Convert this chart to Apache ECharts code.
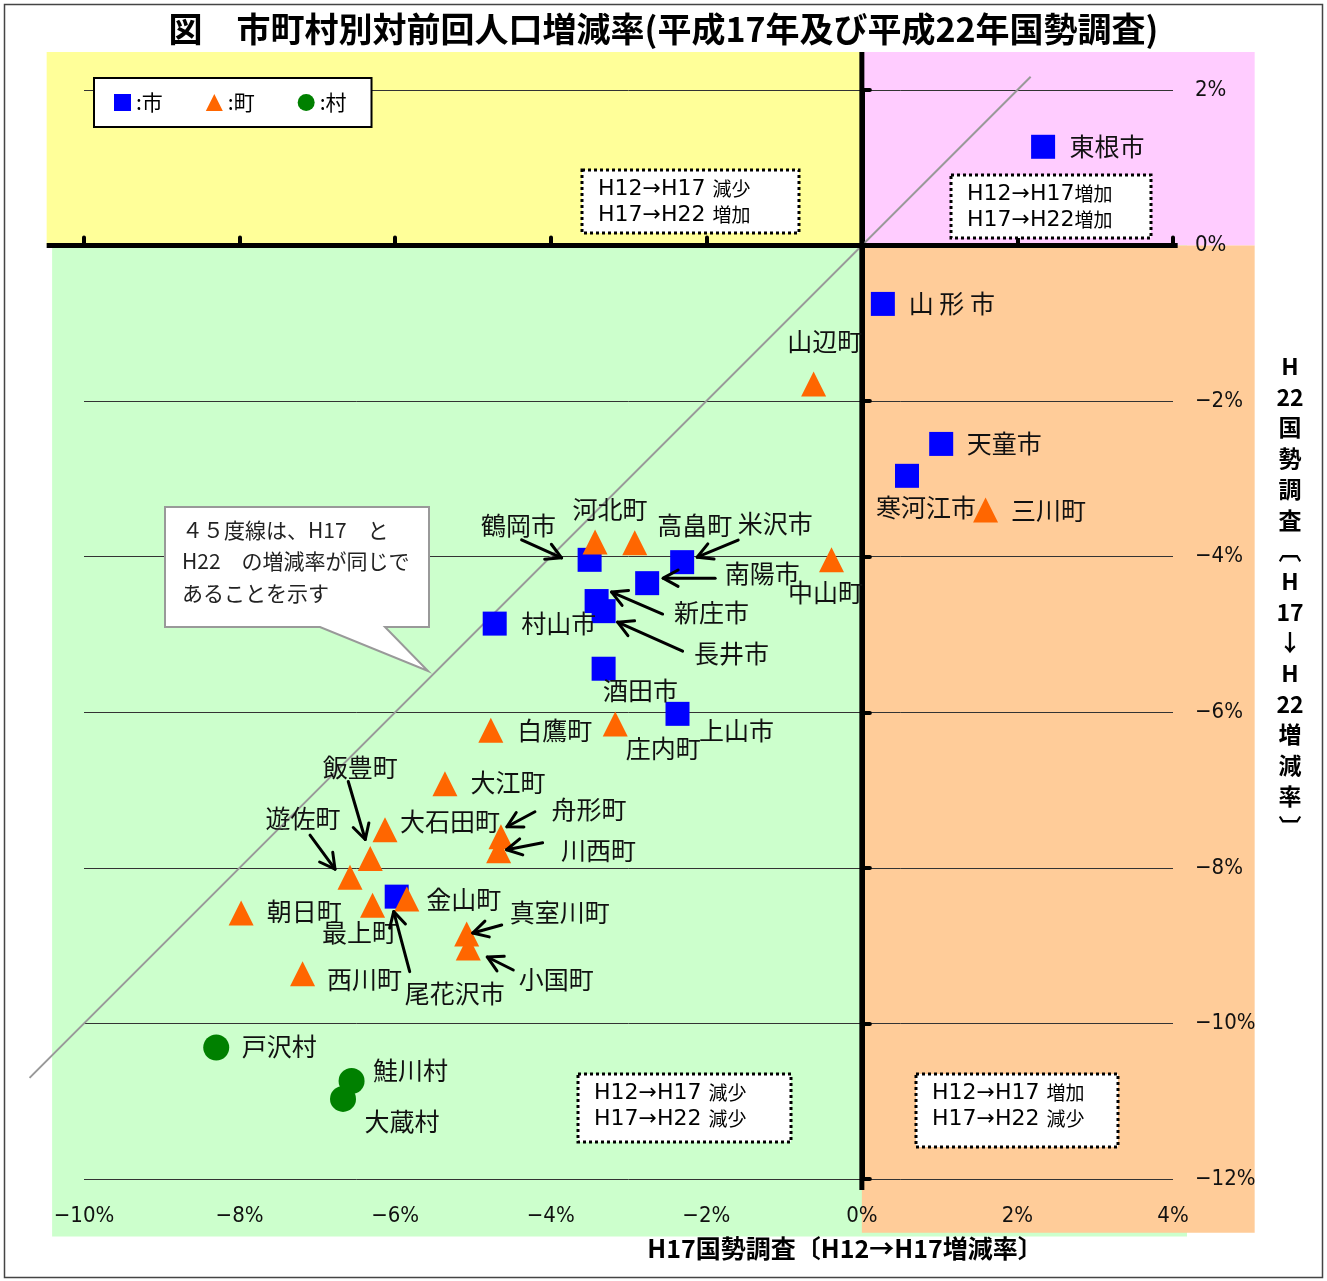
<!DOCTYPE html>
<html><head><meta charset="utf-8">
<script src="https://cdn.jsdelivr.net/npm/echarts@6/dist/echarts.min.js"></script>
<style>html,body{margin:0;padding:0;background:#fff}#c{width:1327px;height:1281px}</style>
</head><body><div id="c"></div>
<script>
// ---- data ----
const xTicks = { min: -10, max: 4, interval: 2 };
const yTicks = { min: -12, max: 2, interval: 2 };
const cityNames = ['東根市','山形市','天童市','寒河江市','米沢市','鶴岡市','南陽市','新庄市','長井市','村山市','酒田市','上山市','尾花沢市'];
const cityX = [2.33,0.27,1.02,0.58,-2.31,-3.50,-2.76,-3.41,-3.32,-4.72,-3.32,-2.37,-5.98];
const cityY = [1.27,-0.75,-2.55,-2.96,-4.07,-4.04,-4.34,-4.57,-4.70,-4.86,-5.44,-6.02,-8.37];
const townNames = ['山辺町','三川町','中山町','河北町','高畠町','白鷹町','庄内町','大江町','大石田町','飯豊町','遊佐町','舟形町','川西町','朝日町','最上町','金山町','真室川町','小国町','西川町'];
const townX = [-0.62,1.59,-0.39,-3.43,-2.92,-4.77,-3.17,-5.36,-6.13,-6.32,-6.58,-4.64,-4.67,-7.98,-6.29,-5.85,-5.08,-5.06,-7.19];
const townY = [-1.78,-3.40,-4.04,-3.81,-3.82,-6.23,-6.15,-6.92,-7.51,-7.88,-8.12,-7.60,-7.78,-8.58,-8.48,-8.40,-8.85,-9.03,-9.36];
const villageNames = ['戸沢村','鮭川村','大蔵村'];
const villageX = [-8.30,-6.56,-6.67];
const villageY = [-10.31,-10.74,-10.97];

// ---- label placement (pixel offsets from the mark) ----
const cityLabelOffset = [[64,0],[69,0],[63,0],[19,32],[93,-39],[-71,-34],[115,-10],[115,11],[128,42],[64,0],[37,22],[59,17],[58,97]];
const townLabelOffset = [[11,-43],[63,0],[-6,33],[15,-32],[60,-17],[64,0],[48,25],[63,-1],[65,-8],[-10,-91],[-47,-59],[88,-27],[100,0],[63,-1],[-13,27],[57,1],[93,-21],[88,32],[62,6]];
const villageLabelOffset = [[63,-1],[59,-10],[59,23]];
// leader arrows: [name, tailDx, tailDy, tipDx, tipDy] in px relative to the mark
const arrows = [
  ['鶴岡市',-68,-20,-28,-2], ['米沢市',56,-22,15,-5], ['南陽市',68,-5,16,-5],
  ['新庄市',66,13,15,-9], ['長井市',79,40,14,11], ['舟形町',34,-25,6,-10],
  ['川西町',44,-8,8,-1], ['飯豊町',-22,-77,-5,-19], ['遊佐町',-40,-42,-15,-8],
  ['尾花沢市',13,75,-3,15], ['真室川町',35,-9,6,-1], ['小国町',45,22,19,9]
];

const CJK = "'Noto Sans CJK JP','Noto Sans CJK SC',sans-serif";
const NARROW = "'Liberation Sans Narrow','DejaVu Sans Condensed','Noto Sans',sans-serif";

function items(names, xs, ys, offs) {
  return names.map((n, i) => ({ name: n, value: [xs[i], ys[i]], label: { offset: offs[i] } }));
}
const pctFmt = v => v === 0 ? '0%' : (v < 0 ? '−' + Math.abs(v) + '%' : v + '%');
const labelBase = {
  show: true, position: 'inside', color: '#111', fontSize: 25, fontFamily: CJK,
  formatter: p => p.name === '山形市' ? '山 形 市' : p.name
};

const chart = echarts.init(document.getElementById('c'), null, { renderer: 'canvas' });
chart.setOption({
  animation: false,
  backgroundColor: '#fff',
  title: {
    text: '図　市町村別対前回人口増減率(平成17年及び平成22年国勢調査)',
    left: 'center', top: 7,
    textStyle: { fontSize: 34, fontWeight: 'bold', color: '#000', fontFamily: CJK }
  },
  legend: {
    left: 94, top: 78, orient: 'horizontal',
    backgroundColor: '#fff', borderColor: '#000', borderWidth: 2,
    padding: [14, 25, 14, 20], itemGap: 43, itemWidth: 17, itemHeight: 17,
    formatter: ':{name}',
    textStyle: { fontSize: 21, color: '#000', fontFamily: CJK },
    data: [{ name: '市', icon: 'rect' }, { name: '町', icon: 'triangle' }, { name: '村', icon: 'circle' }]
  },
  grid: { left: 84, right: 154, top: 90, bottom: 102, containLabel: false },
  xAxis: [
    { type: 'value', position: 'bottom', min: xTicks.min, max: xTicks.max, interval: xTicks.interval,
      axisLine: { show: true, onZero: true, lineStyle: { color: '#000', width: 5 } },
      axisTick: { show: true, inside: true, length: 8, lineStyle: { color: '#000', width: 4, cap: 'round' } },
      axisLabel: { show: false }, splitLine: { show: false } },
    { type: 'value', position: 'bottom', min: xTicks.min, max: xTicks.max, interval: xTicks.interval,
      axisLine: { show: false, onZero: false }, axisTick: { show: false },
      axisLabel: { show: true, margin: 26, fontSize: 22, color: '#111', fontFamily: NARROW, formatter: pctFmt },
      splitLine: { show: false } }
  ],
  yAxis: [
    { type: 'value', position: 'left', min: yTicks.min, max: yTicks.max, interval: yTicks.interval,
      axisLine: { show: true, onZero: true, lineStyle: { color: '#000', width: 5 } },
      axisTick: { show: true, inside: true, length: 8, lineStyle: { color: '#000', width: 4, cap: 'round' } },
      axisLabel: { show: false }, splitLine: { show: false } },
    { type: 'value', position: 'right', min: yTicks.min, max: yTicks.max, interval: yTicks.interval,
      axisLine: { show: false, onZero: false }, axisTick: { show: false },
      axisLabel: { show: true, margin: 22, fontSize: 22, color: '#111', fontFamily: NARROW, formatter: pctFmt },
      splitLine: { show: true, lineStyle: { color: '#333', width: 1 } } }
  ],
  series: [
    { name: '市', type: 'scatter', xAxisIndex: 0, yAxisIndex: 0, symbol: 'rect', symbolSize: 24, z: 4,
      itemStyle: { color: '#0000FF', opacity: 1 }, label: labelBase,
      data: items(cityNames, cityX, cityY, cityLabelOffset) },
    { name: '町', type: 'scatter', xAxisIndex: 0, yAxisIndex: 0, symbol: 'triangle', symbolSize: 25, z: 5,
      itemStyle: { color: '#FF6600', opacity: 1 }, label: labelBase,
      data: items(townNames, townX, townY, townLabelOffset) },
    { name: '村', type: 'scatter', xAxisIndex: 0, yAxisIndex: 0, symbol: 'circle', symbolSize: 26, z: 6,
      itemStyle: { color: '#008000', opacity: 1 }, label: labelBase,
      data: items(villageNames, villageX, villageY, villageLabelOffset) }
  ]
});

// ---- decorations computed from the axes ----
function px(x, y) { return chart.convertToPixel({ gridIndex: 0 }, [x, y]); }
function rectFromData(x0, y0, x1, y1, color, z) {
  const a = px(x0, y1), b = px(x1, y0);
  return { type: 'rect', z: z, silent: true, shape: { x: a[0], y: a[1], width: b[0] - a[0], height: b[1] - a[1] }, style: { fill: color } };
}
function lineFromData(x0, y0, x1, y1, stroke, w, z) {
  const a = px(x0, y0), b = px(x1, y1);
  return { type: 'line', z: z, silent: true, shape: { x1: a[0], y1: a[1], x2: b[0], y2: b[1] }, style: { stroke: stroke, lineWidth: w } };
}
function noteBox(x, y, w, h, l1a, l1b, l2a, l2b) {
  return [
    { type: 'rect', z: 20, shape: { x: x, y: y, width: w, height: h },
      style: { fill: '#fff', stroke: '#000', lineWidth: 3, lineDash: [3, 3] } },
    { type: 'text', z: 21, x: x + 16, y: y + 6,
      style: { text: '{a|' + l1a + '}{b|' + l1b + '}\n{a|' + l2a + '}{b|' + l2b + '}',
        rich: { a: { fontSize: 22, fontFamily: "'DejaVu Sans',sans-serif", color: '#333', lineHeight: 26 },
                b: { fontSize: 19, fontFamily: CJK, color: '#333', lineHeight: 26 } } } }
  ];
}

const allPts = {};
cityNames.forEach((n, i) => allPts[n] = [cityX[i], cityY[i]]);
townNames.forEach((n, i) => allPts[n] = [townX[i], townY[i]]);
villageNames.forEach((n, i) => allPts[n] = [villageX[i], villageY[i]]);

const g = [];
// quadrant backgrounds
g.push(rectFromData(-10.48, 0, 0, 2.49, '#FFFF99', -10));
g.push(rectFromData(0, 0, 5.05, 2.49, '#FFCCFF', -10));
g.push(rectFromData(-10.41, -12.74, 4.18, 0, '#CCFFCC', -10));
g.push(rectFromData(0, -12.69, 5.05, 0, '#FFCC99', -9));
// 45 degree line
g.push(lineFromData(-10.7, -10.7, 2.17, 2.17, '#999', 2, 1));
// extended axis lines
g.push(lineFromData(-10.48, 0, 4.06, 0, '#000', 5, 1));
g.push(lineFromData(0, 2.49, 0, -12.14, '#000', 5, 1));
// arrows
arrows.forEach(a => {
  const p = px(allPts[a[0]][0], allPts[a[0]][1]);
  const t = [p[0] + a[1], p[1] + a[2]], h = [p[0] + a[3], p[1] + a[4]];
  const ang = Math.atan2(t[1] - h[1], t[0] - h[0]), L = 17, s = 0.5;
  const a1 = [h[0] + L * Math.cos(ang + s), h[1] + L * Math.sin(ang + s)];
  const a2 = [h[0] + L * Math.cos(ang - s), h[1] + L * Math.sin(ang - s)];
  g.push({ type: 'line', z: 30, silent: true, shape: { x1: t[0], y1: t[1], x2: h[0], y2: h[1] }, style: { stroke: '#000', lineWidth: 3, lineCap: 'round' } });
  g.push({ type: 'polyline', z: 30, silent: true, shape: { points: [a1, h, a2] }, style: { stroke: '#000', lineWidth: 3, lineCap: 'round', lineJoin: 'round', fill: null } });
});
// quadrant notes
g.push(...noteBox(582, 170, 217, 63, 'H12→H17 ', '減少', 'H17→H22 ', '増加'));
g.push(...noteBox(951, 175, 200, 63, 'H12→H17', '増加', 'H17→H22', '増加'));
g.push(...noteBox(578, 1074, 213, 68, 'H12→H17 ', '減少', 'H17→H22 ', '減少'));
g.push(...noteBox(916, 1074, 202, 73, 'H12→H17 ', '増加', 'H17→H22 ', '減少'));
// callout
g.push({ type: 'polygon', z: 20, shape: { points: [[165,507],[429,507],[429,627],[385,627],[428,671],[320,627],[165,627]] },
  style: { fill: '#fff', stroke: '#999', lineWidth: 2 } });
g.push({ type: 'text', z: 21, x: 182, y: 514,
  style: { text: '４５度線は、H17　と\nH22　の増減率が同じで\nあることを示す', fontSize: 21, lineHeight: 31.5, fontFamily: CJK, fill: '#222' } });
// axis names
g.push({ type: 'text', z: 21, x: 845, y: 1248,
  style: { text: 'H17国勢調査〔H12→H17増減率〕', fontSize: 25, fontWeight: 'bold', fontFamily: CJK, fill: '#000', align: 'center', verticalAlign: 'middle' } });
g.push({ type: 'text', z: 21, x: 1290, y: 351,
  style: { text: ['H','22','国','勢','調','査','︹','H','17','↓','H','22','増','減','率','︺'].join('\n'),
    fontSize: 23, fontWeight: 'bold', lineHeight: 30.7, fontFamily: CJK, fill: '#000', align: 'center', verticalAlign: 'top' } });
// outer frame
g.push({ type: 'rect', z: 0, silent: true, shape: { x: 4.5, y: 4.5, width: 1318, height: 1273 }, style: { fill: null, stroke: '#444', lineWidth: 1.5 } });

chart.setOption({ graphic: { elements: g } });
</script>
</body></html>
